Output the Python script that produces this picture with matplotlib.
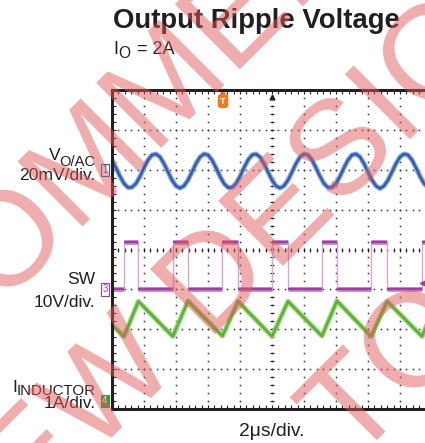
import numpy as np
import matplotlib
matplotlib.use("Agg")
import matplotlib.pyplot as plt

W, H = 425, 443
DPI = 100

# scope screen: 2 us/div, 10 x 8 divisions, trigger at centre
t_min, t_max = -10.0, 10.0
ydiv = 4.0

# CH1 - output ripple, 20 mV/div, ground marker +2 div, one sample every 0.25 us
ch1_scale, ch1_pos = 20.0, 2.0
vo_dt = 0.25
vo_mv = [4.9, 1.0, -3.3, -6.9, -8.9, -8.8, -6.9, -3.4, 1.0, 4.9, 7.4, 7.9, 6.4,
         3.1, -1.1, -5.2, -8.1, -9.2, -8.1, -5.2, -1.1, 3.1, 6.4, 7.9, 7.4,
         4.9, 1.0, -3.3, -6.9, -8.9, -8.9, -6.9, -3.3, 1.0, 4.9, 7.4, 7.9, 6.4,
         3.1, -1.1, -5.2, -8.1, -9.2, -8.1, -5.2, -1.1, 3.1, 6.4, 7.9, 7.4,
         4.9, 1.0, -3.3, -6.9, -8.9, -8.9, -6.9, -3.3, 1.0, 4.9, 7.4, 7.9, 6.4,
         3.1, -1.1, -5.2, -8.1, -9.4, -8.1, -5.2, -1.1, 3.1, 6.4, 7.9, 7.4,
         4.9, 1.0, -3.3, -6.9, -8.9, -8.9]

# CH3 - switch node, 10 V/div, ground marker -1 div
ch3_scale, ch3_pos = 10.0, -1.0
sw_rise = [-9.25, -6.2, -3.1, 0.0, 3.12, 6.2, 9.38]
sw_fall = [-8.35, -5.25, -2.12, 1.0, 4.06, 7.2]
sw_low, sw_high = 0.0, 11.8
trig_level = 1.6

# CH4 - inductor current, 1 A/div, ground marker -3.8 div
ch4_scale, ch4_pos = 1.0, -3.8
il_t = [-10.0, -9.25, -8.35, -6.2, -5.25, -3.1, -2.12, 0.0, 1.0, 3.12, 4.06, 6.2, 7.2, 9.38, 10.0]
il_a = [1.9, 1.62, 2.5, 1.62, 2.51, 1.63, 2.5, 1.62, 2.5, 1.63, 2.51, 1.62, 2.5, 1.62, 2.23]

trig_t = -3.06

# watermark lines, with the index of one letter and where its baseline corner sits
wm_lines = ["NOT RECOMMENDED", "FOR NEW DESIGNS", "TO"]
wm_idx = [10, 8, 0]
wm_x = [233, 208, 352]
wm_y = [77, 342, 462]
wm_angle = 45
wm_size = 96

ink = '#231f20'
blue = '#2c5aa8'
purple = '#9c3f9e'
green = '#5aae38'
orange = '#f07a22'
font = 'Liberation Sans'

fig = plt.figure(figsize=(W / DPI, H / DPI), dpi=DPI)


def fx(x):
    return x / W


def fy(y):
    return 1 - y / H


ax = fig.add_axes([fx(112), fy(409), 320 / W, 319 / H])
ax.set_xlim(t_min, t_max)
ax.set_ylim(-ydiv, ydiv)
ax.set_xticks([])
ax.set_yticks([])
for s in ['left', 'top', 'bottom']:
    ax.spines[s].set_linewidth(2.2)
    ax.spines[s].set_color(ink)
ax.spines['right'].set_visible(False)

# graticule
xmaj = np.arange(t_min, t_max + 0.01, 2.0)
ymaj = np.arange(-ydiv, ydiv + 0.01, 1.0)
xsub = np.arange(t_min, t_max + 0.01, 0.4)
ysub = np.arange(-ydiv, ydiv + 0.01, 0.2)
gx, gy = np.meshgrid(xmaj[1:-1], ysub)
ax.plot(gx.ravel(), gy.ravel(), ls='none', marker='s', ms=1.1, mew=0, color='#333')
gx, gy = np.meshgrid(xsub, ymaj[1:-1])
ax.plot(gx.ravel(), gy.ravel(), ls='none', marker='s', ms=1.1, mew=0, color='#333')
ax.plot(np.zeros_like(ysub), ysub, ls='none', marker='_', ms=3, mew=0.8, color='#222')
ax.plot(xsub, np.zeros_like(xsub), ls='none', marker='|', ms=3, mew=0.8, color='#222')
ax.hlines(ysub, t_min, t_min + 0.25, lw=0.8, color='#222')
ax.vlines(xsub, ydiv - 0.1, ydiv, lw=0.8, color='#222')
ax.vlines(xsub, -ydiv, -ydiv + 0.1, lw=0.8, color='#222')

# CH1
vo_t = t_min + vo_dt * np.arange(len(vo_mv))
vo_y = ch1_pos + np.array(vo_mv) / ch1_scale
ax.plot(vo_t, vo_y, color='#86a3dc', lw=3.6)
ax.plot(vo_t, vo_y, color=blue, lw=1.6)

# CH3
edges = sorted([(t, sw_high) for t in sw_rise] + [(t, sw_low) for t in sw_fall])
sw_t, sw_v = [t_min], [sw_low]
level = sw_low
for t, v in edges:
    sw_t += [t, t]
    sw_v += [level, v]
    level = v
sw_t.append(t_max)
sw_v.append(level)
sw_y = ch3_pos + np.array(sw_v) / ch3_scale
ax.plot(sw_t, sw_y, color='#d2a6da', lw=1.0)
for i in range(0, len(sw_t) - 1, 2):
    ax.plot(sw_t[i:i + 2], sw_y[i:i + 2], color='#bf84c3', lw=3.4, solid_capstyle='butt')
    ax.plot(sw_t[i:i + 2], sw_y[i:i + 2], color=purple, lw=1.6, solid_capstyle='butt')

# CH4
il_y = ch4_pos + np.array(il_a) / ch4_scale
ax.plot(il_t, il_y, color='#9ad473', lw=3.6)
ax.plot(il_t, il_y, color=green, lw=1.6)

# markers on the screen edges
ax.plot(trig_t, ydiv - 0.04, marker='v', ms=4, color=orange, clip_on=False)
ax.plot(0, ydiv - 0.18, marker='^', ms=3.5, color='#222')
ax.plot(9.45, ch3_pos + trig_level / ch3_scale, marker='<', ms=4.5, color=purple)
fig.text(fx(223), fy(101), "T", color='white', fontsize=6.5, weight='bold', family=font,
         ha='center', va='center',
         bbox=dict(boxstyle='round,pad=0.2,rounding_size=0.25', fc=orange, ec=orange))


# channel ground markers
def ch_marker(y, s, col, filled):
    fig.text(fx(105), fy(y), s, color='white' if filled else col, fontsize=7,
             family=font, ha='center', va='center',
             bbox=dict(boxstyle='square,pad=0.12', fc=col if filled else 'white', ec=col, lw=0.8))


ch_marker(249.5 - ch1_pos * 39.9, "1", blue, False)
ch_marker(249.5 - ch3_pos * 39.9, "3", purple, False)
ch_marker(249.5 - ch4_pos * 39.9, "4", '#3c9a3c', True)


# labels
def label(x, y, s, size, ha='right', **kw):
    fig.text(fx(x), fy(y), s, fontsize=size, ha=ha, va='baseline', family=font, color=ink, **kw)


label(113, 28.5, "Output Ripple Voltage", 19.8, ha='left', weight='bold')
label(113, 53.5, "I", 13, ha='left')
label(118, 58.3, "O", 11.2, ha='left')
label(137, 53.5, "= 2A", 13, ha='left')

label(49, 160, "V", 12.5, ha='left')
label(95.5, 165.5, "O/AC", 10.6)
label(95.5, 179.5, "20mV/div.", 12.6)
label(95.5, 284, "SW", 12.6)
label(95.5, 306.7, "10V/div.", 12.6)
label(12.7, 392.5, "I", 12.6, ha='left')
label(95.5, 395.2, "INDUCTOR", 10.8)
label(95.5, 407.5, "1A/div.", 12.6)
label(271.5, 436, "2\u03bcs/div.", 13.9, ha='center')

# watermark
renderer = fig.canvas.get_renderer()


def ink_width(s):
    t = fig.text(0, 0, s, fontsize=wm_size, family=font)
    w = t.get_window_extent(renderer).width
    t.remove()
    return w


ang = np.deg2rad(wm_angle)
for text, idx, cx, cy in zip(wm_lines, wm_idx, wm_x, wm_y):
    off = ink_width(text[:idx + 1]) - ink_width(text[idx]) if idx > 0 else 0.0
    x0 = cx - off * np.cos(ang)
    y0 = cy + off * np.sin(ang)
    fig.text(fx(x0), fy(y0), text, rotation=wm_angle, rotation_mode='anchor',
             ha='left', va='baseline', fontsize=wm_size, family=font,
             color='#df5b5b', alpha=0.5, zorder=20)

fig.savefig("out.png", dpi=DPI, facecolor='white')
